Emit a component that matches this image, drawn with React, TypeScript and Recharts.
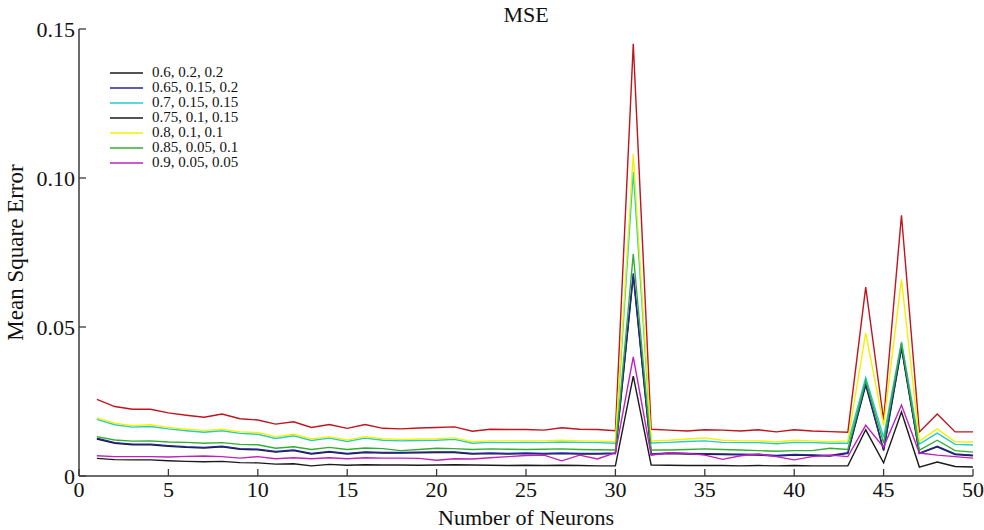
import { LineChart, Line, XAxis, YAxis, Legend } from "recharts"

// x positions: number of neurons 1..50
const neurons = Array.from({ length: 50 }, (_, i) => i + 1)

const xTicks = [0, 5, 10, 15, 20, 25, 30, 35, 40, 45, 50]
const yTicks = [0, 0.05, 0.1, 0.15]
const yTickLabels = ["0", "0.05", "0.10", "0.15"]

const red = [
  0.0257, 0.0233, 0.0224, 0.0224, 0.0212, 0.0204, 0.0197, 0.0208, 0.0192, 0.0188,
  0.0174, 0.0182, 0.0163, 0.0173, 0.016, 0.0173, 0.016, 0.0158, 0.0161, 0.0163,
  0.0165, 0.015, 0.0157, 0.0156, 0.0156, 0.0154, 0.0162, 0.0157, 0.0156, 0.0152,
  0.145, 0.0157, 0.0154, 0.0151, 0.0155, 0.0154, 0.0151, 0.0155, 0.0148, 0.0155,
  0.0151, 0.0149, 0.0147, 0.0634, 0.0188, 0.0875, 0.0148, 0.0208, 0.0148, 0.0148,
]
const s060 = [
  0.0059, 0.0055, 0.0054, 0.0054, 0.0051, 0.0049, 0.0048, 0.0049, 0.0045, 0.0044,
  0.004, 0.0041, 0.0034, 0.0039, 0.0036, 0.0038, 0.0037, 0.0037, 0.0036, 0.0037,
  0.0038, 0.0037, 0.0036, 0.0035, 0.0036, 0.0035, 0.0036, 0.0035, 0.0034, 0.0034,
  0.0335, 0.0037, 0.0036, 0.0035, 0.0035, 0.0035, 0.0034, 0.0035, 0.0034, 0.0035,
  0.0034, 0.0034, 0.0034, 0.0155, 0.0044, 0.0215, 0.003, 0.0047, 0.0032, 0.003,
]
const s065 = [
  0.0127, 0.0112, 0.0107, 0.0107, 0.0102, 0.0098, 0.0096, 0.01, 0.0092, 0.009,
  0.0082, 0.0087, 0.0076, 0.0082, 0.0076, 0.0081, 0.0079, 0.0079, 0.008, 0.0081,
  0.0081, 0.0076, 0.0077, 0.0076, 0.0077, 0.0076, 0.0077, 0.0076, 0.0076, 0.0077,
  0.068, 0.0074, 0.0077, 0.0076, 0.0075, 0.0074, 0.0073, 0.0072, 0.0069, 0.0072,
  0.0071, 0.0069, 0.0078, 0.031, 0.0087, 0.0433, 0.0077, 0.01, 0.0074, 0.007,
]
const s070 = [
  0.019, 0.0172, 0.0164, 0.0166, 0.0158, 0.0152, 0.0147, 0.0152, 0.0143, 0.014,
  0.0126, 0.0135, 0.0119, 0.0127, 0.0116, 0.0127, 0.012, 0.0118, 0.0119, 0.012,
  0.0123, 0.011, 0.0113, 0.0112, 0.0113, 0.0112, 0.0114, 0.0113, 0.0112, 0.011,
  0.102, 0.0111, 0.0113, 0.0116, 0.0118, 0.0113, 0.0112, 0.0112, 0.0108, 0.0113,
  0.0112, 0.011, 0.011, 0.033, 0.013, 0.045, 0.0107, 0.0144, 0.0106, 0.0104,
]
const s075 = [
  0.0124, 0.011, 0.0105, 0.0105, 0.01, 0.0096, 0.0094, 0.0098, 0.009, 0.0088,
  0.008, 0.0085, 0.0074, 0.008, 0.0074, 0.0079, 0.0077, 0.0077, 0.0078, 0.0079,
  0.0079, 0.0074, 0.0075, 0.0074, 0.0075, 0.0074, 0.0075, 0.0074, 0.0074, 0.0075,
  0.0672, 0.0072, 0.0075, 0.0074, 0.0073, 0.0072, 0.0071, 0.007, 0.0067, 0.007,
  0.0069, 0.0067, 0.0076, 0.0305, 0.0085, 0.0428, 0.0075, 0.0098, 0.0072, 0.0068,
]
const s080 = [
  0.0195, 0.0177, 0.0169, 0.0172, 0.0163, 0.0157, 0.0153, 0.0157, 0.0148, 0.0146,
  0.0132, 0.014, 0.0124, 0.0132, 0.0121, 0.0132, 0.0125, 0.0123, 0.0124, 0.0125,
  0.0128, 0.0115, 0.0118, 0.0118, 0.0118, 0.0118, 0.012, 0.0118, 0.0117, 0.0115,
  0.108, 0.0118, 0.012, 0.0124, 0.0128, 0.012, 0.0118, 0.0118, 0.0114, 0.012,
  0.0118, 0.0115, 0.0118, 0.048, 0.017, 0.066, 0.0117, 0.0158, 0.0115, 0.0114,
]
const s085 = [
  0.0132, 0.0121, 0.0117, 0.0118, 0.0114, 0.0113, 0.011, 0.0112, 0.0106, 0.0105,
  0.0093, 0.0098, 0.0089, 0.0096, 0.0089, 0.0094, 0.0092, 0.0085, 0.0089, 0.0093,
  0.0092, 0.0089, 0.0091, 0.009, 0.0089, 0.009, 0.0091, 0.0089, 0.0088, 0.0087,
  0.0745, 0.0087, 0.0087, 0.0089, 0.0091, 0.0089, 0.0087, 0.0085, 0.0083, 0.0085,
  0.0085, 0.0093, 0.0089, 0.032, 0.011, 0.0445, 0.0087, 0.012, 0.0085, 0.008,
]
const s090 = [
  0.0068, 0.0065, 0.0065, 0.0065, 0.0064, 0.0066, 0.0067, 0.0065, 0.006, 0.0065,
  0.0058, 0.0061, 0.0058, 0.0061, 0.0058, 0.0061, 0.006, 0.006, 0.0059, 0.0053,
  0.0058, 0.0057, 0.0061, 0.0065, 0.0069, 0.007, 0.0051, 0.007, 0.0057, 0.0078,
  0.04, 0.007, 0.0078, 0.0076, 0.007, 0.0056, 0.0068, 0.0074, 0.0065, 0.0054,
  0.0065, 0.007, 0.0065, 0.017, 0.0097, 0.0238, 0.0077, 0.007, 0.0065, 0.006,
]

// drawing order: first one is at the bottom
const series = [
  { key: "extra", name: "", color: "#c0141e", values: red, inLegend: false },
  { key: "s075", name: "0.75, 0.1, 0.15", color: "#1a1a1a", values: s075, inLegend: true },
  { key: "s065", name: "0.65, 0.15, 0.2", color: "#2424a0", values: s065, inLegend: true },
  { key: "s060", name: "0.6, 0.2, 0.2", color: "#1a1a1a", values: s060, inLegend: true },
  { key: "s070", name: "0.7, 0.15, 0.15", color: "#22cccc", values: s070, inLegend: true },
  { key: "s080", name: "0.8, 0.1, 0.1", color: "#f2f200", values: s080, inLegend: true },
  { key: "s085", name: "0.85, 0.05, 0.1", color: "#30b030", values: s085, inLegend: true },
  { key: "s090", name: "0.9, 0.05, 0.05", color: "#c020c0", values: s090, inLegend: true },
]

const legendOrder = ["s060", "s065", "s070", "s075", "s080", "s085", "s090"]

const data = neurons.map((n, i) => {
  const row: any = { n }
  series.forEach((s) => (row[s.key] = s.values[i]))
  return row
})

const FONT = "'Liberation Serif', 'Times New Roman', serif"
const AXIS = "#3a3a3a"
const TICK = 7

const BottomTick = ({ x, y, payload }: any) => (
  <g>
    <line x1={x} x2={x} y1={y} y2={y - TICK} stroke={AXIS} strokeWidth={1.3} />
    <text x={x} y={y + 4} dy="0.75em" textAnchor="middle" fontSize={22} fontFamily={FONT} fill="#111">
      {payload.value}
    </text>
  </g>
)

const TopTick = ({ x, y }: any) => <line x1={x} x2={x} y1={y} y2={y + TICK} stroke={AXIS} strokeWidth={1.3} />

const LeftTick = ({ x, y, payload, index }: any) => (
  <g>
    <line x1={x} x2={x + TICK} y1={y} y2={y} stroke={AXIS} strokeWidth={1.3} />
    <text x={x - 4} y={y} dy="0.35em" textAnchor="end" fontSize={22} fontFamily={FONT} fill="#111">
      {yTickLabels[index] ?? payload.value}
    </text>
  </g>
)

const RightTick = ({ x, y }: any) => <line x1={x} x2={x - TICK} y1={y} y2={y} stroke={AXIS} strokeWidth={1.3} />

const LegendBox = () => (
  <div style={{ fontFamily: FONT, fontSize: 15, lineHeight: "15px", color: "#111" }}>
    {legendOrder.map((k) => {
      const s = series.find((e) => e.key === k)!
      return (
        <div key={k} style={{ display: "flex", alignItems: "center", height: 15 }}>
          <svg width={44} height={15} style={{ flex: "none" }}>
            <line x1={2} x2={35} y1={8} y2={8} stroke={s.color} strokeWidth={1.5} />
          </svg>
          <span style={{ whiteSpace: "nowrap" }}>{s.name}</span>
        </div>
      )
    })}
  </div>
)

export default function App() {
  return (
    <div style={{ position: "absolute", left: 0, top: 0, width: 984, height: 530, background: "#fff" }}>
      <div
        style={{
          position: "absolute",
          left: 79,
          width: 894,
          top: 2,
          textAlign: "center",
          fontFamily: FONT,
          fontSize: 22,
          color: "#111",
        }}
      >
        MSE
      </div>
      <LineChart width={984} height={530} data={data} margin={{ top: 29, right: 11, bottom: 0, left: 0 }}>
        <XAxis
          dataKey="n"
          type="number"
          domain={[0, 50]}
          ticks={xTicks}
          interval={0}
          height={54}
          tickSize={0}
          tickMargin={0}
          tick={<BottomTick />}
          axisLine={{ stroke: AXIS, strokeWidth: 1.5 }}
          label={{ value: "Number of Neurons", position: "insideBottom", offset: 5, fontSize: 22, fontFamily: FONT, fill: "#111" }}
        />
        <XAxis
          xAxisId="top"
          orientation="top"
          dataKey="n"
          type="number"
          domain={[0, 50]}
          ticks={xTicks}
          interval={0}
          height={0}
          tickSize={0}
          tickMargin={0}
          tick={<TopTick />}
          axisLine={{ stroke: AXIS, strokeWidth: 1.5 }}
        />
        <YAxis
          type="number"
          domain={[0, 0.15]}
          ticks={yTicks}
          interval={0}
          width={79}
          tickSize={0}
          tickMargin={0}
          tick={<LeftTick />}
          axisLine={{ stroke: AXIS, strokeWidth: 1.5 }}
          label={{
            content: ({ viewBox }: any) => (
              <text
                x={viewBox.x + 15}
                y={viewBox.y + viewBox.height / 2}
                transform={`rotate(-90 ${viewBox.x + 15} ${viewBox.y + viewBox.height / 2})`}
                textAnchor="middle"
                dominantBaseline="central"
                fontSize={23}
                fontFamily={FONT}
                fill="#111"
              >
                Mean Square Error
              </text>
            ),
          }}
        />
        <YAxis
          yAxisId="right"
          orientation="right"
          type="number"
          domain={[0, 0.15]}
          ticks={yTicks}
          interval={0}
          width={0}
          tickSize={0}
          tickMargin={0}
          tick={<RightTick />}
          axisLine={{ stroke: AXIS, strokeWidth: 1.5 }}
        />
        <Legend
          layout="horizontal"
          verticalAlign="middle"
          align="center"
          content={<LegendBox />}
          wrapperStyle={{ left: 108, top: 65, width: 170 }}
        />
        {series.map((s) => (
          <Line
            key={s.key}
            dataKey={s.key}
            name={s.name}
            stroke={s.color}
            strokeWidth={1.4}
            dot={false}
            activeDot={false}
            type="linear"
            legendType={s.inLegend ? "line" : "none"}
            isAnimationActive={false}
          />
        ))}
      </LineChart>
    </div>
  )
}
